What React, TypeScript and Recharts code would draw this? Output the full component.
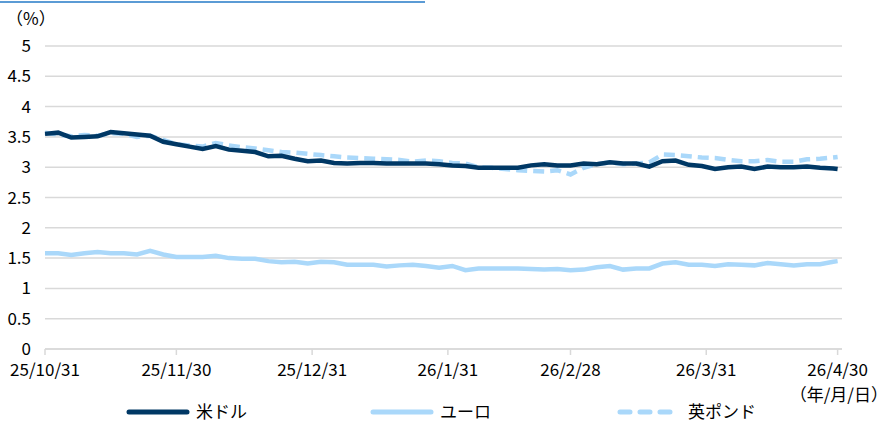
import React from 'react';
import { LineChart, Line, XAxis, YAxis, CartesianGrid } from 'recharts';

// days counted from 2025/10/31
const days = [0, 3, 6, 9, 12, 15, 18, 21, 24, 27, 30, 33, 36, 39, 42, 45, 48, 51, 54, 57, 60, 63, 66, 69, 72, 75, 78, 81, 84, 87, 90, 93, 96, 99, 102, 105, 108, 111, 114, 117, 120, 123, 126, 129, 132, 135, 138, 141, 144, 147, 150, 153, 156, 159, 162, 165, 168, 171, 174, 177, 180, 181];

const usd = [3.55, 3.57, 3.49, 3.5, 3.51, 3.58, 3.56, 3.54, 3.52, 3.42, 3.38, 3.34, 3.3, 3.35, 3.29, 3.27, 3.25, 3.18, 3.19, 3.14, 3.1, 3.11, 3.07, 3.06, 3.07, 3.07, 3.06, 3.06, 3.06, 3.06, 3.05, 3.03, 3.02, 2.99, 2.99, 2.99, 2.99, 3.03, 3.05, 3.03, 3.03, 3.06, 3.05, 3.08, 3.06, 3.06, 3.01, 3.1, 3.11, 3.04, 3.02, 2.97, 3.0, 3.01, 2.97, 3.01, 3.0, 3.0, 3.01, 2.99, 2.98, 2.97];

const eur = [1.58, 1.58, 1.55, 1.58, 1.6, 1.58, 1.58, 1.56, 1.62, 1.56, 1.52, 1.52, 1.52, 1.54, 1.5, 1.49, 1.49, 1.45, 1.43, 1.44, 1.41, 1.44, 1.43, 1.39, 1.39, 1.39, 1.36, 1.38, 1.39, 1.37, 1.34, 1.37, 1.3, 1.33, 1.33, 1.33, 1.33, 1.32, 1.31, 1.32, 1.3, 1.31, 1.35, 1.37, 1.31, 1.33, 1.33, 1.41, 1.43, 1.39, 1.39, 1.37, 1.4, 1.39, 1.38, 1.42, 1.4, 1.38, 1.4, 1.4, 1.44, 1.45];

const gbp = [3.57, 3.54, 3.51, 3.53, 3.52, 3.56, 3.55, 3.5, 3.52, 3.45, 3.38, 3.36, 3.34, 3.4, 3.36, 3.33, 3.31, 3.28, 3.25, 3.24, 3.22, 3.2, 3.18, 3.16, 3.15, 3.14, 3.13, 3.12, 3.09, 3.11, 3.1, 3.07, 3.06, 3.0, 2.99, 2.97, 2.95, 2.94, 2.93, 2.95, 2.88, 2.99, 3.05, 3.08, 3.05, 3.06, 3.08, 3.21, 3.2, 3.18, 3.16, 3.15, 3.12, 3.1, 3.1, 3.12, 3.09, 3.09, 3.13, 3.14, 3.16, 3.17];

const xTicks = [0, 30, 61, 92, 120, 151, 181];
const xLabels = ['25/10/31', '25/11/30', '25/12/31', '26/1/31', '26/2/28', '26/3/31', '26/4/30'];
const yTicks = [0, 0.5, 1, 1.5, 2, 2.5, 3, 3.5, 4, 4.5, 5];

const NAVY = '#003865';
const LIGHT = '#aad8fa';
const FONT = '"Noto Sans CJK JP", sans-serif';

const data = days.map((d, i) => ({ day: d, usd: usd[i], eur: eur[i], gbp: gbp[i] }));

export default function App() {
  return (
    <div style={{ position: 'relative', width: 892, height: 423, fontFamily: FONT, background: '#fff', overflow: 'hidden' }}>
      <style>{'body{margin:0}'}</style>
      <div style={{ position: 'absolute', left: 0, top: 1, width: 425, height: 2, background: '#5b9bd5' }} />
      <div style={{ position: 'absolute', left: 6, top: 5, fontSize: 17, color: '#000' }}>（%）</div>
      <LineChart width={892} height={423} data={data} margin={{ top: 46, right: 50, left: 0, bottom: 44 }}>
        <CartesianGrid vertical={false} stroke="#d9d9d9" strokeWidth={1.5} />
        <XAxis
          dataKey="day"
          type="number"
          domain={[0, 182]}
          ticks={xTicks}
          tickFormatter={(v: number) => xLabels[xTicks.indexOf(v)]}
          interval={0}
          stroke="#d9d9d9"
          strokeWidth={1.5}
          tickSize={6}
          tickMargin={9}
          height={30}
          tick={{ fill: '#000', fontSize: 17, fontFamily: FONT }}
        />
        <YAxis
          domain={[0, 5]}
          ticks={yTicks}
          width={45}
          axisLine={false}
          tickLine={false}
          tickSize={0}
          tickMargin={14}
          tick={{ fill: '#000', fontSize: 17, fontFamily: FONT }}
        />
        <Line dataKey="eur" stroke={LIGHT} strokeWidth={4.5} dot={false} isAnimationActive={false} />
        <Line dataKey="gbp" stroke={LIGHT} strokeWidth={4.5} strokeDasharray="11 6" dot={false} isAnimationActive={false} />
        <Line dataKey="usd" stroke={NAVY} strokeWidth={4.5} dot={false} isAnimationActive={false} />
      </LineChart>
      <div style={{ position: 'absolute', right: 4, top: 383, fontSize: 17, lineHeight: '22px' }}>（年/月/日）</div>
      <div style={{ position: 'absolute', left: 0, top: 398, width: 892, height: 25, fontSize: 17, lineHeight: '25px' }}>
        <svg style={{ position: 'absolute', left: 126, top: 11 }} width={64} height={6}>
          <line x1={3} y1={3} x2={61} y2={3} stroke={NAVY} strokeWidth={5} strokeLinecap="round" />
        </svg>
        <span style={{ position: 'absolute', left: 196, top: 0 }}>米ドル</span>
        <svg style={{ position: 'absolute', left: 370, top: 11 }} width={64} height={6}>
          <line x1={3} y1={3} x2={61} y2={3} stroke={LIGHT} strokeWidth={5} strokeLinecap="round" />
        </svg>
        <span style={{ position: 'absolute', left: 440, top: 0 }}>ユーロ</span>
        <svg style={{ position: 'absolute', left: 617, top: 11 }} width={62} height={6}>
          <line x1={3} y1={3} x2={59} y2={3} stroke={LIGHT} strokeWidth={5} strokeLinecap="round" strokeDasharray="10 10" />
        </svg>
        <span style={{ position: 'absolute', left: 688, top: 0 }}>英ポンド</span>
      </div>
    </div>
  );
}
